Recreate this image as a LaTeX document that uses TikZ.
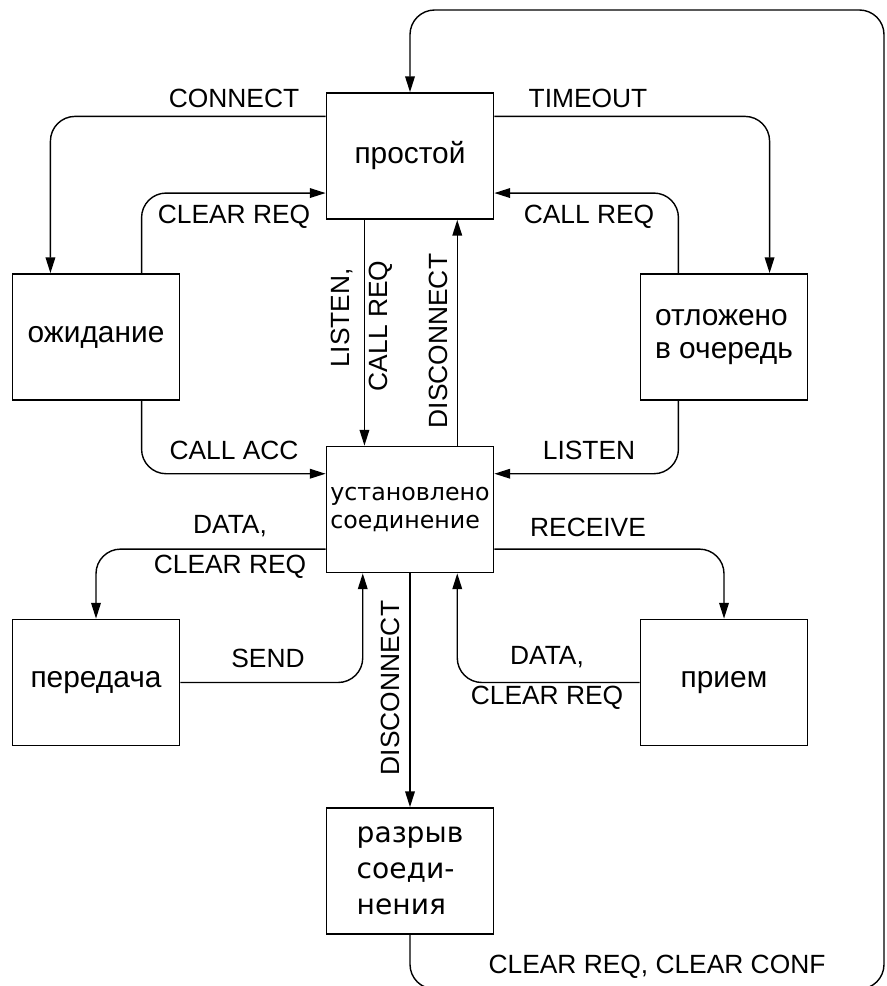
\documentclass[tikz,border=0pt]{standalone}
\usepackage{fontspec}
\setmainfont{Liberation Sans}
\newfontfamily\dejavu{DejaVu Sans}
\usetikzlibrary{arrows.meta,calc,positioning}

\tikzset{
  state/.style={draw, line width=1pt, minimum width=33.4mm, minimum height=25.2mm,
    inner sep=0pt, align=center, font=\fontsize{17}{18.5}\selectfont},
  arr/.style={line width=0.8pt, rounded corners=14pt, -{Triangle[length=9pt,width=5.5pt]}},
  lbl/.style={font=\fontsize{15}{22.5}\selectfont, inner sep=0pt, align=center},
}

\begin{document}
\begin{tikzpicture}[x=0.2mm,y=-0.2mm]
    \useasboundingbox (0,0) rectangle (886,986);

    % States
    \node[state] (idle) at (410,156) {простой};
    \node[state] (wait) at (96,337) {ожидание};
    \node[state, align=left] (queue) at (724,337) {отложено\\в очередь};
    \node[state, align=left, font=\dejavu\fontsize{13.5}{16}\selectfont] (conn) at (410,509.5) {установлено\\соединение};
    \node[state] (send) at (96,682.5) {передача};
    \node[state] (recv) at (724,682.5) {прием};
    \node[state, align=left, font=\dejavu\fontsize{16}{20.5}\selectfont] (brk) at (410,871) {разрыв\\соеди-\\нения};

    % idle <-> wait / queue
    \draw[arr] ($(idle.north west)!.19!(idle.south west)$) -| ($(wait.north west)!.23!(wait.north east)$);
    \node[lbl] (lConnect) at (234,98) {CONNECT};
    \draw[arr] ($(wait.north west)!.77!(wait.north east)$) |- ($(idle.north west)!.79!(idle.south west)$);
    \node[lbl] (lClearReq) at (234,217) {CLEAR REQ};
    \draw[arr] ($(idle.north east)!.19!(idle.south east)$) -| ($(queue.north west)!.77!(queue.north east)$);
    \node[lbl] (lTimeout) at (588,98) {TIMEOUT};
    \draw[arr] ($(queue.north west)!.23!(queue.north east)$) |- ($(idle.north east)!.79!(idle.south east)$);
    \node[lbl] (lCallReq) at (589,217) {CALL REQ};

    % idle <-> conn
    \draw[arr] ($(idle.south west)!.23!(idle.south east)$) -- ($(conn.north west)!.23!(conn.north east)$);
    \node[lbl, rotate=90] (lListenA) at (342,318) {LISTEN,};
    \node[lbl, rotate=90] (lListenB) at (381,326) {CALL REQ};
    \draw[arr] ($(conn.north west)!.78!(conn.north east)$) -- ($(idle.south west)!.78!(idle.south east)$);
    \node[lbl, rotate=90] (lDiscUp) at (438,341) {DISCONNECT};

    % wait / queue -> conn
    \draw[arr] ($(wait.south west)!.77!(wait.south east)$) |- ($(conn.north west)!.22!(conn.south west)$);
    \node[lbl] (lCallAcc) at (234,450) {CALL ACC};
    \draw[arr] ($(queue.south west)!.23!(queue.south east)$) |- ($(conn.north east)!.22!(conn.south east)$);
    \node[lbl] (lListen) at (589,450) {LISTEN};

    % conn <-> send / recv
    \draw[arr] ($(conn.north west)!.81!(conn.south west)$) -| (send.north);
    \node[lbl] (lDataL) at (230,547) {DATA,\\CLEAR REQ};
    \draw[arr] (send.east) -| ($(conn.south west)!.22!(conn.south east)$);
    \node[lbl] (lSend) at (268,658) {SEND};
    \draw[arr] ($(conn.north east)!.81!(conn.south east)$) -| (recv.north);
    \node[lbl] (lReceive) at (588,527) {RECEIVE};
    \draw[arr] (recv.west) -| ($(conn.south west)!.78!(conn.south east)$);
    \node[lbl] (lDataR) at (547,678) {DATA,\\CLEAR REQ};

    % conn -> brk -> idle
    \draw[arr] (conn.south) -- (brk.north);
    \node[lbl, rotate=90] (lDiscDown) at (390,688) {DISCONNECT};
    \coordinate (se) at (884,989);
    \coordinate (ne) at (884,10);
    \draw[arr] (brk.south) |- (se) -- (ne) -| (idle.north);
    \node[lbl] (lClearConf) at (657,967) {CLEAR REQ, CLEAR CONF};
\end{tikzpicture}
\end{document}
